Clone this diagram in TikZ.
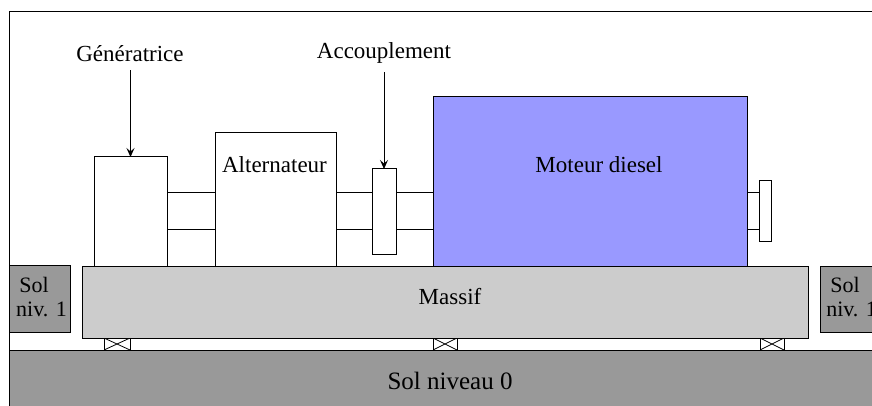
\documentclass[tikz,border=0pt]{standalone}
\usepackage{fontspec}
\setmainfont{Liberation Serif}
\usetikzlibrary{arrows.meta}
\tikzset{
  x=1pt,y=-1pt,
  box/.style={draw=black,line width=1pt,anchor=north west,inner sep=0pt,outer sep=0pt,fill=white},
  blk/.style args={#1x#2}{box,minimum width=#1pt,minimum height=#2pt},
  pad/.style={box,minimum width=26pt,minimum height=12pt,
    path picture={\draw[line width=0.8pt] (path picture bounding box.north west)--(path picture bounding box.south east)
      (path picture bounding box.north east)--(path picture bounding box.south west);}},
  lbl/.style={font=\fontsize{23pt}{26pt}\selectfont,inner sep=0pt,anchor=base},
  lblsol/.style={lbl,font=\fontsize{22pt}{26pt}\selectfont},
  lblbig/.style={lbl,font=\fontsize{25pt}{28pt}\selectfont},
  ptr/.style={draw=black,line width=1pt,-{Stealth[length=9pt,width=8pt,inset=3.5pt]}}
}
\begin{document}
\begin{tikzpicture}
\useasboundingbox (0,0) rectangle (872,406);
\coordinate (frameA) at (9,350);
\coordinate (frameB) at (9,12);
\coordinate (frameC) at (880,12);
\draw[line width=1pt] (frameA)--(frameB)--(frameC);
% soils
\node[blk=880x70,fill=black!40] (sol0) at (9,350) {};
\node[blk=61x67,fill=black!40] (solL) at (9,265.5) {};
\node[blk=60x66,fill=black!40] (solR) at (820,266) {};
% shafts
\node[blk=48x36] (sh1) at (167,193) {};
\node[blk=97x36] (sh2) at (336,193) {};
\node[blk=12x36] (sh3) at (747,193) {};
% machines
\node[blk=73x109] (gen) at (94,157) {};
\node[blk=121x133] (alt) at (215,133) {};
\node[blk=314x169,fill={rgb,255:red,153;green,153;blue,255}] (mot) at (433,97) {};
\node[blk=24x85] (acc) at (372,169) {};
\node[blk=12x60] (fla) at (759,181) {};
% foundation
\node[blk=726x72,fill=black!20] (mas) at (82,266) {};
\node[pad] (p1) at (104,338) {};
\node[pad,minimum width=24pt] (p2) at (433,338) {};
\node[pad,minimum width=24pt] (p3) at (760,338) {};
% labels
\node[lbl] (tgen) at (130,62) {Génératrice};
\node[lbl] (tacc) at (384,59) {Accouplement};
\node[lbl] at (274.5,172) {Alternateur};
\node[lbl] at (599,172) {Moteur diesel};
\node[lbl] at (450,304) {Massif};
\node[lblbig] at (450,389) {Sol niveau 0};
\node[lblsol] at (34,292) {Sol};
\node[lblsol] at (41.5,316) {niv. 1};
\node[lblsol] at (845,292) {Sol};
\node[lblsol] at (851.5,316) {niv. 1};
% arrows
\draw[ptr] (tgen.south -| gen.north) ++(0,8) -- (gen.north);
\draw[ptr] (tacc.south -| acc.north) ++(0,8) -- (acc.north);
\end{tikzpicture}
\end{document}
